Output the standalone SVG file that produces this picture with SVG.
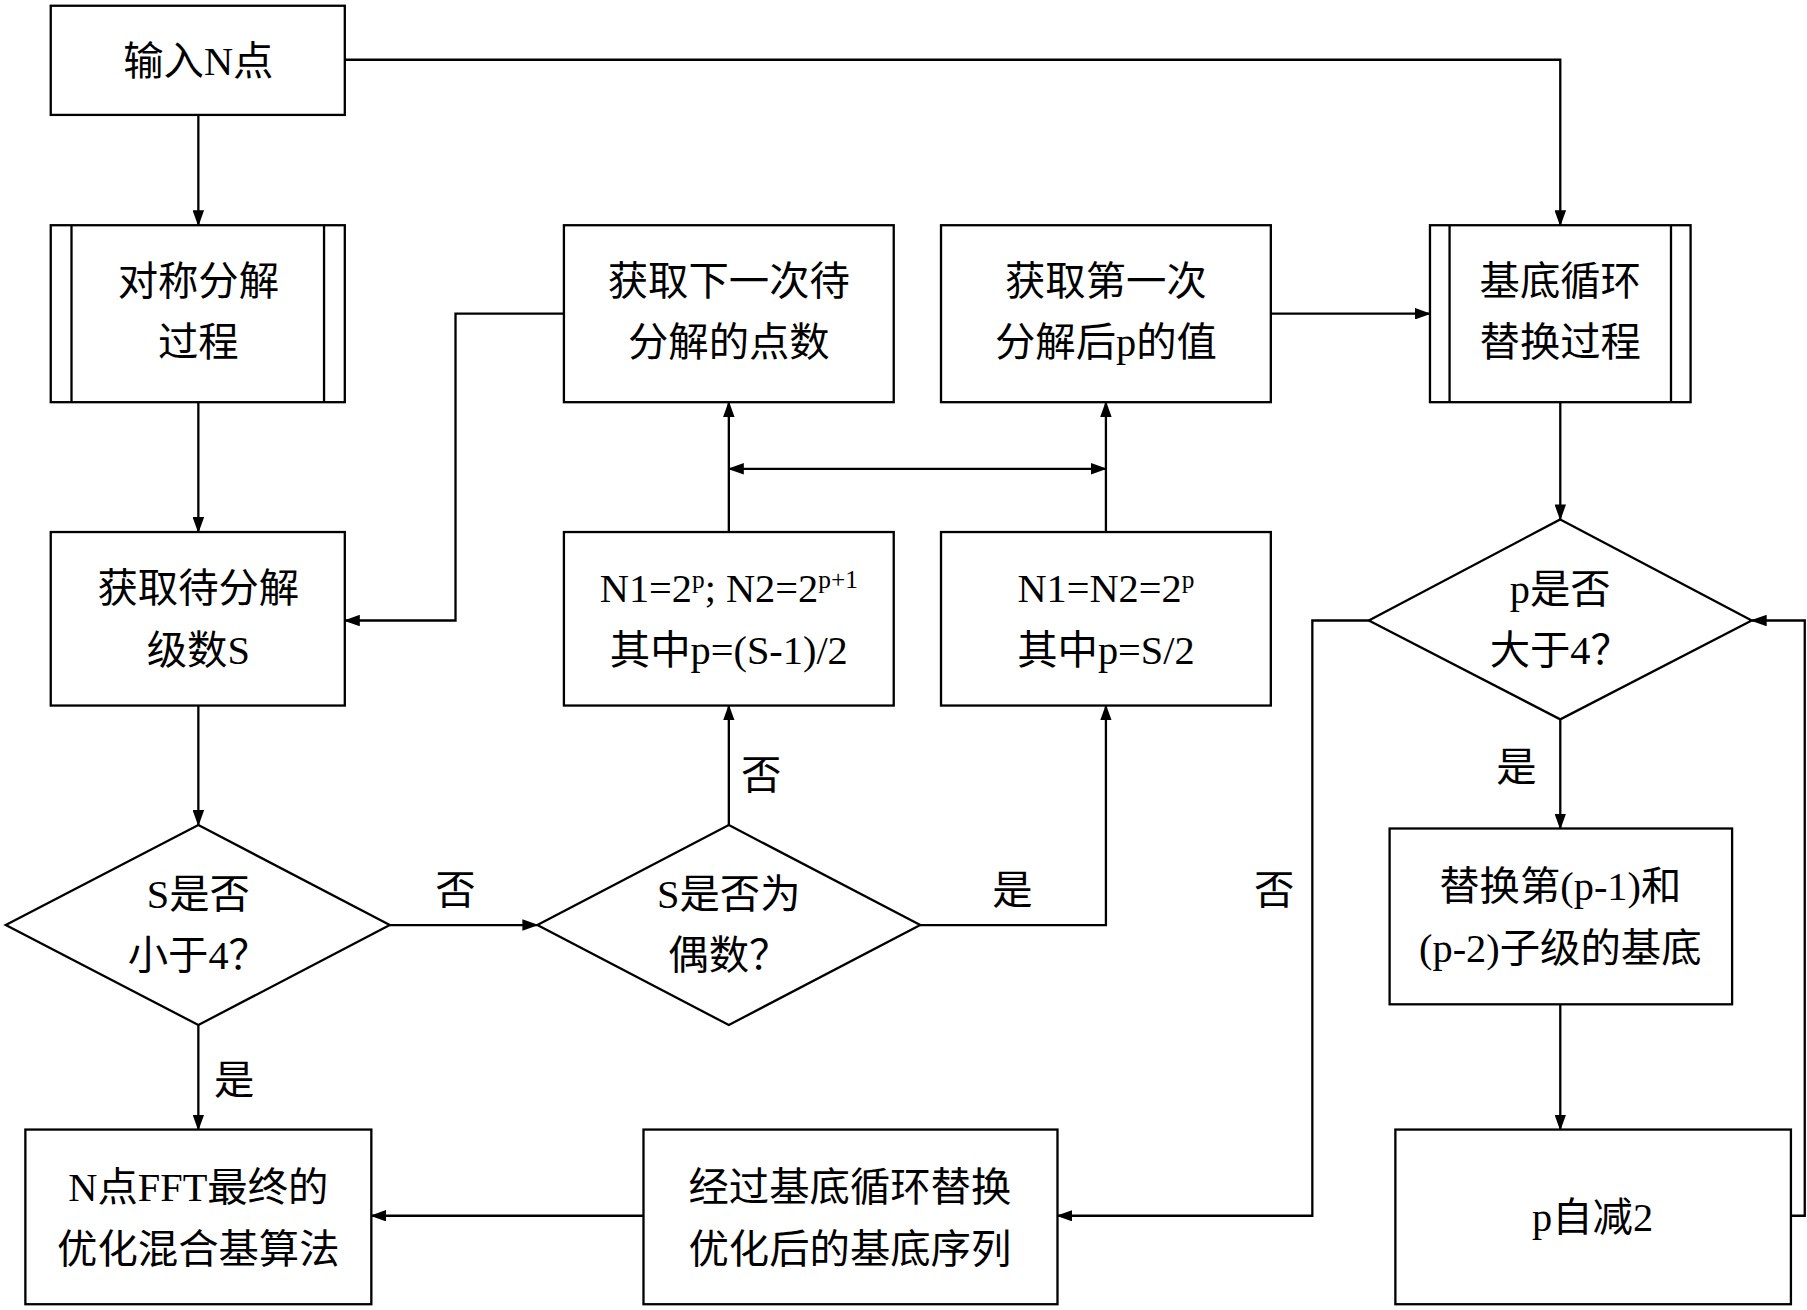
<svg xmlns="http://www.w3.org/2000/svg" width="1807" height="1310" viewBox="0 0 1807 1310">
<style>
.b{fill:#fff;stroke:#000;stroke-width:2}
.l{fill:none;stroke:#000;stroke-width:2}
text{font-family:"Liberation Serif","Noto Sans CJK SC",serif;font-size:35px;text-anchor:middle;fill:#000}
</style>
<defs><marker id="a" markerWidth="14" markerHeight="10" refX="13" refY="5" orient="auto-start-reverse" markerUnits="userSpaceOnUse"><path d="M0,0L14,5L0,10z"/></marker></defs>
<rect width="1807" height="1310" fill="#fff"/>
<g transform="scale(1.1532,1.1491)">
<g id="connectors" class="l" marker-end="url(#a)">
<path d="M172,100V196"/>
<path d="M299,52H1353V196"/>
<path d="M172,350V463"/>
<path d="M172,614V718"/>
<path d="M172,892V983"/>
<path d="M338,805H466"/>
<path d="M632,718V614"/>
<path d="M798,805H959V614"/>
<path d="M632,463V350"/>
<path d="M959,463V350"/>
<path d="M632,408H959" marker-start="url(#a)"/>
<path d="M489,273H395V540H299"/>
<path d="M1102,273H1240"/>
<path d="M1353,350V452"/>
<path d="M1353,626V721"/>
<path d="M1353,874V983"/>
<path d="M1553,1058H1565V540H1519"/>
<path d="M1187,540H1138V1058H917"/>
<path d="M558,1058H322"/>
</g>
<g id="labels">
<text x="203" y="952">是</text><text x="395" y="787">否</text><text x="660" y="687">否</text>
<text x="878" y="787">是</text><text x="1315" y="680">是</text><text x="1105" y="787">否</text>
</g>
<g id="n1"><rect class="b" x="44" y="5" width="255" height="95"/><text x="172" y="65">输入N点</text></g>
<g id="n2"><rect class="b" x="44" y="196" width="255" height="154"/><path class="l" d="M62,196V350M281,196V350"/><text x="172" y="257">对称分解</text><text x="172" y="310">过程</text></g>
<g id="n3"><rect class="b" x="44" y="463" width="255" height="151"/><text x="172" y="524">获取待分解</text><text x="172" y="578">级数S</text></g>
<g id="n4"><path class="b" d="M172,718L338,805L172,892L5,805z"/><text x="172" y="790">S是否</text><text x="172" y="843">小于4？</text></g>
<g id="n5"><rect class="b" x="22" y="983" width="300" height="152"/><text x="172" y="1045">N点FFT最终的</text><text x="172" y="1099">优化混合基算法</text></g>
<g id="n6"><rect class="b" x="489" y="196" width="286" height="154"/><text x="632" y="257">获取下一次待</text><text x="632" y="310">分解的点数</text></g>
<g id="n7"><rect class="b" x="816" y="196" width="286" height="154"/><text x="959" y="257">获取第一次</text><text x="959" y="310">分解后p的值</text></g>
<g id="n8"><rect class="b" x="1240" y="196" width="226" height="154"/><path class="l" d="M1257,196V350M1449,196V350"/><text x="1353" y="257">基底循环</text><text x="1353" y="310">替换过程</text></g>
<g id="n9"><rect class="b" x="489" y="463" width="286" height="151"/><text x="632" y="524">N1=2<tspan dy="-12" font-size="22">p</tspan><tspan dy="12">; N2=2</tspan><tspan dy="-12" font-size="22">p+1</tspan></text><text x="632" y="578">其中p=(S-1)/2</text></g>
<g id="n10"><rect class="b" x="816" y="463" width="286" height="151"/><text x="959" y="524">N1=N2=2<tspan dy="-12" font-size="22">p</tspan></text><text x="959" y="578">其中p=S/2</text></g>
<g id="n11"><path class="b" d="M632,718L798,805L632,892L466,805z"/><text x="632" y="790">S是否为</text><text x="632" y="843">偶数？</text></g>
<g id="n12"><path class="b" d="M1353,452L1519,540L1353,626L1187,540z"/><text x="1353" y="525">p是否</text><text x="1353" y="578">大于4？</text></g>
<g id="n13"><rect class="b" x="1205" y="721" width="297" height="153"/><text x="1353" y="783">替换第(p-1)和</text><text x="1353" y="837">(p-2)子级的基底</text></g>
<g id="n14"><rect class="b" x="1210" y="983" width="343" height="152"/><text x="1381" y="1071">p自减2</text></g>
<g id="n15"><rect class="b" x="558" y="983" width="359" height="152"/><text x="737" y="1045">经过基底循环替换</text><text x="737" y="1099">优化后的基底序列</text></g>
</g>
</svg>
